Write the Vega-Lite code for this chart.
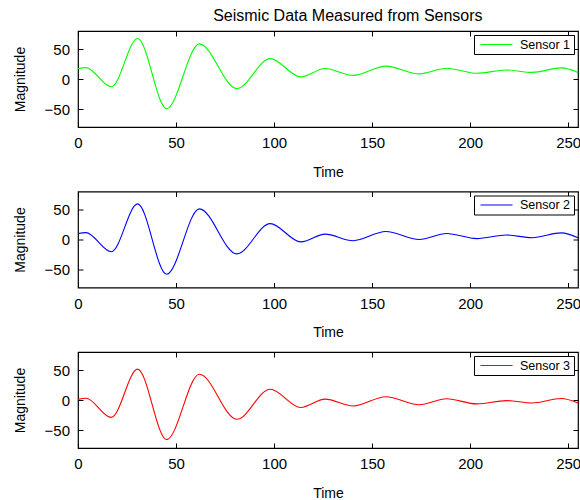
{
  "$schema": "https://vega.github.io/schema/vega-lite/v6.json",
  "background": "white",
  "padding": {"left": 12, "top": 7, "right": 0, "bottom": 0},
  "title": {"text": "Seismic Data Measured from Sensors", "fontSize": 16, "font": "Liberation Sans", "fontWeight": "normal", "color": "black", "anchor": "middle", "offset": 6, "dx": 51},
  "datasets": {
    "s": [
      {"time": 0, "magnitude": 17.5, "sensor": "Sensor 1"},
      {"time": 4, "magnitude": 19, "sensor": "Sensor 1"},
      {"time": 17, "magnitude": -13, "sensor": "Sensor 1"},
      {"time": 30.4, "magnitude": 67.5, "sensor": "Sensor 1"},
      {"time": 45.2, "magnitude": -49.5, "sensor": "Sensor 1"},
      {"time": 61.9, "magnitude": 58.5, "sensor": "Sensor 1"},
      {"time": 81, "magnitude": -16, "sensor": "Sensor 1"},
      {"time": 98, "magnitude": 34, "sensor": "Sensor 1"},
      {"time": 113.6, "magnitude": 3.5, "sensor": "Sensor 1"},
      {"time": 126, "magnitude": 17.5, "sensor": "Sensor 1"},
      {"time": 140.3, "magnitude": 6, "sensor": "Sensor 1"},
      {"time": 157, "magnitude": 21.5, "sensor": "Sensor 1"},
      {"time": 174, "magnitude": 8.5, "sensor": "Sensor 1"},
      {"time": 188, "magnitude": 18, "sensor": "Sensor 1"},
      {"time": 203.4, "magnitude": 9.5, "sensor": "Sensor 1"},
      {"time": 218.5, "magnitude": 15, "sensor": "Sensor 1"},
      {"time": 231.6, "magnitude": 11, "sensor": "Sensor 1"},
      {"time": 246.5, "magnitude": 18.5, "sensor": "Sensor 1"},
      {"time": 255, "magnitude": 11, "sensor": "Sensor 1"},
      {"time": 0, "magnitude": 10, "sensor": "Sensor 2"},
      {"time": 4, "magnitude": 11.5, "sensor": "Sensor 2"},
      {"time": 17, "magnitude": -20.5, "sensor": "Sensor 2"},
      {"time": 30.4, "magnitude": 59.3, "sensor": "Sensor 2"},
      {"time": 45.2, "magnitude": -58, "sensor": "Sensor 2"},
      {"time": 61.9, "magnitude": 51, "sensor": "Sensor 2"},
      {"time": 81, "magnitude": -24, "sensor": "Sensor 2"},
      {"time": 98, "magnitude": 26.5, "sensor": "Sensor 2"},
      {"time": 113.6, "magnitude": -4, "sensor": "Sensor 2"},
      {"time": 126, "magnitude": 9, "sensor": "Sensor 2"},
      {"time": 140.3, "magnitude": -2, "sensor": "Sensor 2"},
      {"time": 157, "magnitude": 13.3, "sensor": "Sensor 2"},
      {"time": 174, "magnitude": 0, "sensor": "Sensor 2"},
      {"time": 188, "magnitude": 10, "sensor": "Sensor 2"},
      {"time": 203.4, "magnitude": 1.5, "sensor": "Sensor 2"},
      {"time": 218.5, "magnitude": 7.5, "sensor": "Sensor 2"},
      {"time": 231.6, "magnitude": 3, "sensor": "Sensor 2"},
      {"time": 246.5, "magnitude": 11, "sensor": "Sensor 2"},
      {"time": 255, "magnitude": 3, "sensor": "Sensor 2"},
      {"time": 0, "magnitude": 1, "sensor": "Sensor 3"},
      {"time": 4, "magnitude": 3, "sensor": "Sensor 3"},
      {"time": 17, "magnitude": -29, "sensor": "Sensor 3"},
      {"time": 30.4, "magnitude": 51.5, "sensor": "Sensor 3"},
      {"time": 45.2, "magnitude": -66, "sensor": "Sensor 3"},
      {"time": 61.9, "magnitude": 43, "sensor": "Sensor 3"},
      {"time": 81, "magnitude": -32, "sensor": "Sensor 3"},
      {"time": 98, "magnitude": 18, "sensor": "Sensor 3"},
      {"time": 113.6, "magnitude": -12.5, "sensor": "Sensor 3"},
      {"time": 126, "magnitude": 1.5, "sensor": "Sensor 3"},
      {"time": 140.3, "magnitude": -10, "sensor": "Sensor 3"},
      {"time": 157, "magnitude": 5.5, "sensor": "Sensor 3"},
      {"time": 174, "magnitude": -8, "sensor": "Sensor 3"},
      {"time": 188, "magnitude": 2, "sensor": "Sensor 3"},
      {"time": 203.4, "magnitude": -6.5, "sensor": "Sensor 3"},
      {"time": 218.5, "magnitude": -1, "sensor": "Sensor 3"},
      {"time": 231.6, "magnitude": -5, "sensor": "Sensor 3"},
      {"time": 246.5, "magnitude": 2.5, "sensor": "Sensor 3"},
      {"time": 255, "magnitude": -5, "sensor": "Sensor 3"}
    ]
  },
  "config": {
    "view": {"stroke": "black", "strokeWidth": 1.2},
    "axis": {"labelFont": "Liberation Sans", "labelFontSize": 15, "titleFont": "Liberation Sans", "titleFontSize": 14, "titleFontWeight": "normal", "labelColor": "black", "titleColor": "black", "tickColor": "black", "domain": false, "grid": false, "tickSize": -5, "labelFlush": false},
    "axisLeft": {"titlePadding": 17, "labelPadding": 13.5},
    "axisBottom": {"titlePadding": 14.5, "labelPadding": 13.5},
    "legend": {"orient": "top-right", "offset": 4, "title": null, "symbolType": "stroke", "symbolSize": 1024, "symbolStrokeWidth": 1, "labelFont": "Liberation Sans", "labelFontSize": 12.5, "labelColor": "black", "strokeColor": "black", "fillColor": "white", "padding": 3, "symbolOffset": 3, "labelOffset": 7, "cornerRadius": 0, "clipHeight": 13},
    "concat": {"spacing": 9.5}
  },
  "resolve": {"scale": {"color": "independent"}, "legend": {"color": "independent"}},
  "vconcat": [
    {
      "width": 500, "height": 96,
      "data": {"name": "s"},
      "transform": [{"filter": "datum.sensor == 'Sensor 1'"}],
      "layer": [
        {"mark": {"type": "line", "interpolate": "monotone", "strokeWidth": 1.1},
         "encoding": {
           "x": {"field": "time", "type": "quantitative", "scale": {"domain": [0, 255], "nice": false, "zero": false}, "axis": {"orient": "bottom", "values": [0, 50, 100, 150, 200, 250], "title": "Time"}},
           "y": {"field": "magnitude", "type": "quantitative", "scale": {"domain": [-80, 80], "nice": false}, "axis": {"orient": "left", "values": [-50, 0, 50], "title": "Magnitude"}},
           "color": {"field": "sensor", "type": "nominal", "scale": {"domain": ["Sensor 1"], "range": ["#00ff00"]}}
         }},
        {"mark": {"type": "line", "opacity": 0},
         "encoding": {
           "x": {"field": "time", "type": "quantitative", "axis": {"orient": "top", "values": [0, 50, 100, 150, 200, 250], "labels": false, "title": null}},
           "y": {"field": "magnitude", "type": "quantitative", "axis": {"orient": "right", "values": [-50, 0, 50], "labels": false, "title": null}}
         }}
      ]
    },
    {
      "width": 500, "height": 96,
      "data": {"name": "s"},
      "transform": [{"filter": "datum.sensor == 'Sensor 2'"}],
      "layer": [
        {"mark": {"type": "line", "interpolate": "monotone", "strokeWidth": 1.1},
         "encoding": {
           "x": {"field": "time", "type": "quantitative", "scale": {"domain": [0, 255], "nice": false, "zero": false}, "axis": {"orient": "bottom", "values": [0, 50, 100, 150, 200, 250], "title": "Time"}},
           "y": {"field": "magnitude", "type": "quantitative", "scale": {"domain": [-80, 80], "nice": false}, "axis": {"orient": "left", "values": [-50, 0, 50], "title": "Magnitude"}},
           "color": {"field": "sensor", "type": "nominal", "scale": {"domain": ["Sensor 2"], "range": ["#0000ff"]}}
         }},
        {"mark": {"type": "line", "opacity": 0},
         "encoding": {
           "x": {"field": "time", "type": "quantitative", "axis": {"orient": "top", "values": [0, 50, 100, 150, 200, 250], "labels": false, "title": null}},
           "y": {"field": "magnitude", "type": "quantitative", "axis": {"orient": "right", "values": [-50, 0, 50], "labels": false, "title": null}}
         }}
      ]
    },
    {
      "width": 500, "height": 96,
      "data": {"name": "s"},
      "transform": [{"filter": "datum.sensor == 'Sensor 3'"}],
      "layer": [
        {"mark": {"type": "line", "interpolate": "monotone", "strokeWidth": 1.1},
         "encoding": {
           "x": {"field": "time", "type": "quantitative", "scale": {"domain": [0, 255], "nice": false, "zero": false}, "axis": {"orient": "bottom", "values": [0, 50, 100, 150, 200, 250], "title": "Time"}},
           "y": {"field": "magnitude", "type": "quantitative", "scale": {"domain": [-80, 80], "nice": false}, "axis": {"orient": "left", "values": [-50, 0, 50], "title": "Magnitude"}},
           "color": {"field": "sensor", "type": "nominal", "scale": {"domain": ["Sensor 3"], "range": ["#ff0000"]}}
         }},
        {"mark": {"type": "line", "opacity": 0},
         "encoding": {
           "x": {"field": "time", "type": "quantitative", "axis": {"orient": "top", "values": [0, 50, 100, 150, 200, 250], "labels": false, "title": null}},
           "y": {"field": "magnitude", "type": "quantitative", "axis": {"orient": "right", "values": [-50, 0, 50], "labels": false, "title": null}}
         }}
      ]
    }
  ]
}
